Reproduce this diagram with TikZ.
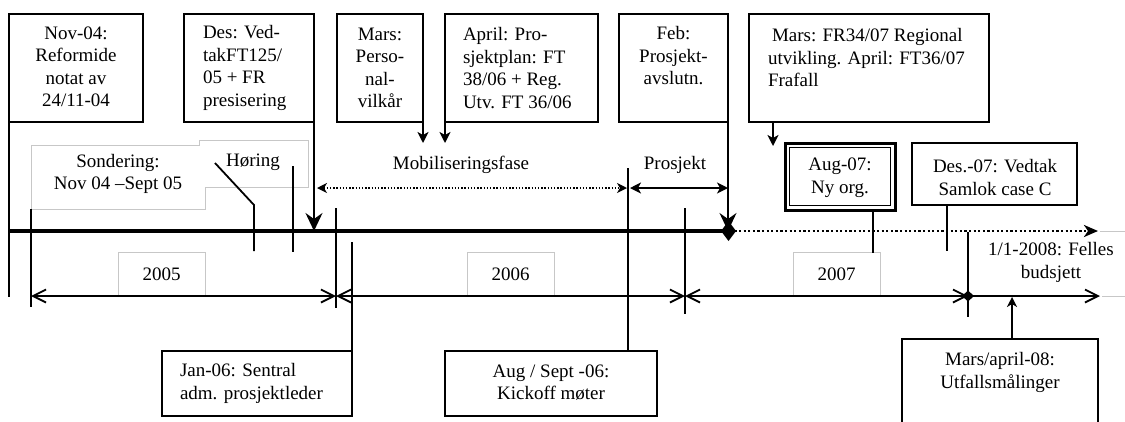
\documentclass[tikz,border=0pt]{standalone}
\usepackage{fontspec}
\setmainfont{Liberation Serif}
\usetikzlibrary{arrows.meta}
\begin{document}
\begin{tikzpicture}[x=1pt,y=-1pt,
  every node/.style={font=\fontsize{19}{22.5}\selectfont, inner sep=0pt, outer sep=0pt},
  evbox/.style={draw, line width=1.8pt, anchor=north west},
  yearbox/.style={draw=black!22, line width=0.8pt, anchor=north west, minimum width=87pt, minimum height=44pt},
  lnk/.style={line width=1.8pt},
  bigtip/.style={line width=1.8pt, -{Stealth[length=18pt,width=17pt,inset=6pt]}},
  smalltip/.style={line width=1.8pt, -{Stealth[length=11pt,width=11pt,inset=3pt]}},
  axisline/.style={line width=4pt},
  span/.style={line width=1.8pt, {Straight Barb[length=13pt,width=13pt,line width=1.8pt]}-{Straight Barb[length=13pt,width=13pt,line width=1.8pt]}},
  faint/.style={draw=black!22, line width=0.8pt}
]
\clip (0,0) rectangle (1125,421);
\fill[white] (0,0) rectangle (1125,421);

% event boxes along the top
\node[evbox, minimum width=134pt, minimum height=108pt] (nov) at (9,14) {};
\node[evbox, minimum width=130pt, minimum height=108pt] (des) at (184,14) {};
\node[evbox, minimum width=86pt, minimum height=108pt] (mars) at (337,14) {};
\node[evbox, minimum width=153pt, minimum height=108pt] (april) at (445,14) {};
\node[evbox, minimum width=109pt, minimum height=108pt] (feb) at (619,14) {};
\node[evbox, minimum width=240pt, minimum height=108pt] (fr) at (749,14) {};
\node[evbox, line width=3pt, minimum width=110pt, minimum height=67pt] (aug07) at (785,143) {};
\draw[line width=1pt] ([shift={(4.5pt,-4.5pt)}]aug07.north west) rectangle ([shift={(-4.5pt,4.5pt)}]aug07.south east);
\node[evbox, minimum width=165pt, minimum height=62pt] (des07) at (912,143) {};

% event boxes along the bottom
\node[evbox, minimum width=190pt, minimum height=65pt] (jan) at (162,351) {};
\node[evbox, minimum width=212pt, minimum height=65pt] (kick) at (445,351) {};
\node[evbox, minimum width=196pt, minimum height=100pt] (utf) at (902,339) {};

% box texts
\node[align=center] (novT) at (76,67) {Nov-04:\\Reformide\\notat av\\24/11-04};
\node[align=left, anchor=west] (desT) at (203,68) {Des: Ved-\\takFT125/\\05 + FR\\presisering};
\node[align=center] (marsT) at (380,68) {Mars:\\Perso-\\nal-\\vilkår};
\node[align=left, anchor=west] (aprilT) at (463,68) {April: Pro-\\sjektplan: FT\\38/06 + Reg.\\Utv. FT 36/06};
\node[align=center] (febT) at (673.5,56) {Feb:\\Prosjekt-\\avslutn.};
\node[align=left, anchor=west] (frT) at (768,57.5) {\hspace{4pt}Mars: FR34/07 Regional\\utvikling. April: FT36/07\\Frafall};
\node[align=center] (aug07T) at (840,177.5) {Aug-07:\\Ny org.};
\node[align=center] (des07T) at (995,177.5) {Des.-07: Vedtak\\Samlok case C};
\node[align=left, anchor=west] (janT) at (180,383.5) {Jan-06: Sentral\\adm. prosjektleder};
\node[align=center] (kickT) at (551,382.5) {Aug / Sept -06:\\Kickoff møter};
\node[align=center] (utfT) at (1000,372.5) {Mars/april-08:\\Utfallsmålinger};

% phase area and labels
\draw[faint] (31,145) -- (199,145) -- (199,140) -- (308,140) -- (308,187) -- (205,187) -- (205,209) -- (31,209) -- cycle;
\node[align=center] (sond) at (118,174) {Sondering:\\Nov 04 –Sept 05};
\node (horing) at (253,162) {Høring};
\node (mobil) at (461,165) {Mobiliseringsfase};
\node (prosj) at (675,165) {Prosjekt};
\node[align=center] (felles) at (1051,262.5) {1/1-2008: Felles\\budsjett};

% year boxes
\node[yearbox] (y2005) at (118,252) {2005};
\node[yearbox] (y2006) at (467,252) {2006};
\node[yearbox] (y2007) at (793,252) {2007};
\draw[faint] (1100,231) -- (1125,231);
\draw[faint] (1102,296) -- (1125,296);

% main time axis
\coordinate (axL) at (9,231);
\coordinate (axR) at (728,231);
\coordinate (dotS) at (721,231);
\coordinate (dotE) at (1098,231);
\draw[axisline] (axL) -- (axR);
\draw[line width=2.6pt, dash pattern=on 2.2pt off 2.4pt, {Diamond[length=15pt,width=20pt]}-{Stealth[length=14pt,width=12pt,inset=4pt]}] (dotS) -- (dotE);

% connectors from the top boxes
\coordinate (novE) at (9,297);
\draw[lnk] (nov.south west) -- (novE);
\draw[bigtip] (des.south east) -- (des.south east |- axL);
\coordinate (marsE) at (423,143);
\draw[smalltip] (mars.south east) -- (marsE);
\coordinate (aprilE) at (445,143);
\draw[smalltip] (april.south west) -- (aprilE);
\draw[bigtip] (feb.south east) -- (axR);
\coordinate (frE) at (773,146);
\draw[smalltip] (fr.south west -| frE) -- (frE);
\coordinate (aug07E) at (873,253);
\draw[lnk] (aug07.south -| aug07E) -- (aug07E);
\coordinate (des07E) at (947,251);
\draw[lnk] (des07.south -| des07E) -- (des07E);

% connectors from the bottom boxes
\coordinate (janE) at (352,242);
\draw[lnk] (jan.north east) -- (janE);
\coordinate (kickE) at (628,168);
\draw[lnk] (kick.north -| kickE) -- (kickE);
\coordinate (utfE) at (1012,297);
\draw[line width=1.6pt, -{Stealth[length=10pt,width=10pt,inset=3pt]}] (utf.north -| utfE) -- (utfE);

% phase spans
\coordinate (mobL) at (317,188);
\coordinate (mobR) at (627,188);
\draw[line width=1.4pt, dash pattern=on 1.4pt off 1.8pt, {Stealth[length=10pt,width=10pt,inset=3pt]}-{Stealth[length=10pt,width=10pt,inset=3pt]}] (mobL) -- (mobR);
\coordinate (proL) at (630,188);
\coordinate (proR) at (728,188);
\draw[line width=1.4pt, {Stealth[length=11pt,width=11pt,inset=3pt]}-{Stealth[length=11pt,width=11pt,inset=3pt]}] (proL) -- (proR);

% ticks on the axes
\coordinate (h1) at (215,163); \coordinate (h2) at (254,205); \coordinate (h3) at (254,251);
\draw[lnk] (h1) -- (h2) -- (h3);
\coordinate (t293a) at (293,166); \coordinate (t293b) at (293,252);
\draw[lnk] (t293a) -- (t293b);
\coordinate (t31a) at (31,209); \coordinate (t31b) at (31,307);
\draw[lnk] (t31a) -- (t31b);
\coordinate (t336a) at (336,208); \coordinate (t336b) at (336,308);
\draw[lnk] (t336a) -- (t336b);
\coordinate (t685a) at (685,208); \coordinate (t685b) at (685,314);
\draw[lnk] (t685a) -- (t685b);
\coordinate (t968a) at (968,232); \coordinate (t968b) at (968,317);
\draw[lnk] (t968a) -- (t968b);

% year spans on the lower axis
\coordinate (b0) at (31,296);
\coordinate (b1) at (336,296);
\coordinate (b2) at (685,296);
\coordinate (b3) at (968,296);
\coordinate (b3s) at (962,296);
\coordinate (b4) at (1100,296);
\draw[span] (b0) -- (b1);
\draw[span] (b1) -- (b2);
\draw[span] (b2) -- (b3);
\draw[line width=1.8pt, {Diamond[length=12pt,width=11pt]}-{Straight Barb[length=13pt,width=13pt,line width=1.8pt]}] (b3s) -- (b4);
\end{tikzpicture}
\end{document}
